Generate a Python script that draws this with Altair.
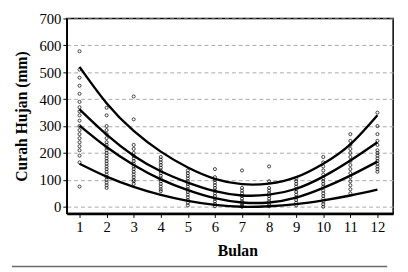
import altair as alt
import pandas as pd

months = list(range(1, 13))
month_ticks = [1, 2, 3, 4, 5, 6, 7, 8, 9, 10, 11, 12]
y_ticks = [0, 100, 200, 300, 400, 500, 600, 700]

# fitted curves
curve_a = [520, 385, 282, 205, 146, 104, 84, 86, 110, 160, 232, 340]
curve_b = [362, 268, 190, 132, 90, 58, 42, 45, 67, 112, 172, 240]
curve_c = [302, 222, 155, 102, 62, 32, 16, 16, 34, 70, 116, 168]
curve_d = [160, 112, 74, 44, 22, 7, 0, 2, 10, 24, 42, 64]

obs_m1 = [578, 510, 480, 450, 420, 390, 370, 355, 340, 320, 300, 285, 270, 255, 240, 225, 210, 190, 165, 75]
obs_m2 = [368, 340, 300, 285, 270, 255, 240, 230, 220, 210, 200, 190, 180, 170, 160, 150, 140, 130, 120, 110, 100, 90, 80, 70]
obs_m3 = [410, 325, 230, 215, 200, 190, 180, 170, 160, 150, 140, 130, 120, 110, 100, 95, 85]
obs_m4 = [185, 175, 165, 155, 145, 135, 125, 115, 105, 95, 85, 75, 65, 58]
obs_m5 = [135, 125, 115, 105, 95, 85, 75, 65, 55, 45, 35, 25, 15, 5]
obs_m6 = [140, 110, 100, 90, 80, 70, 60, 50, 40, 30, 20, 10, 2]
obs_m7 = [135, 70, 60, 50, 40, 30, 20, 12, 5, 0]
obs_m8 = [150, 95, 70, 60, 50, 40, 30, 20, 10, 2]
obs_m9 = [105, 95, 85, 75, 65, 55, 45, 35, 25, 15, 5]
obs_m10 = [185, 165, 150, 135, 120, 105, 95, 85, 75, 60, 50, 40, 30, 20, 10, 0]
obs_m11 = [270, 245, 230, 215, 200, 185, 170, 155, 140, 125, 110, 95, 80, 65, 50]
obs_m12 = [350, 300, 270, 245, 230, 210, 200, 190, 180, 170, 160, 150, 140, 130]

obs_all = [obs_m1, obs_m2, obs_m3, obs_m4, obs_m5, obs_m6,
           obs_m7, obs_m8, obs_m9, obs_m10, obs_m11, obs_m12]

pts = pd.DataFrame([
    {"Bulan": m, "CH": v}
    for m, vals in zip(months, obs_all) for v in vals
])

curves = pd.DataFrame([
    {"Bulan": m, "CH": v, "q": name}
    for name, series in [("a", curve_a), ("b", curve_b), ("c", curve_c), ("d", curve_d)]
    for m, v in zip(months, series)
])

FONT = "Liberation Serif"
xscale = alt.Scale(domain=[0.53, 12.58], nice=False, zero=False)
yscale = alt.Scale(domain=[-25, 700], nice=False, zero=False)

x_axis = alt.Axis(values=month_ticks, title="Bulan", grid=False, format="d",
                  labelOverlap=False,
                  domainColor="black", domainWidth=2.5, tickColor="black",
                  tickSize=4, labelPadding=2, titlePadding=9, titleX=174)
y_axis = alt.Axis(values=y_ticks, title="Curah Hujan (mm)", grid=True,
                  labelOverlap=False,
                  gridDash=[4, 3], gridColor="#a8a8a8", gridWidth=1,
                  domainColor="black", domainWidth=1.5, tickColor="black",
                  tickSize=4, labelPadding=2, titlePadding=10)

points = alt.Chart(pts).mark_point(
    shape="circle", filled=False, size=10, color="black", strokeWidth=0.8, opacity=0.9
).encode(
    x=alt.X("Bulan:Q", scale=xscale, axis=x_axis),
    y=alt.Y("CH:Q", scale=yscale, axis=y_axis),
)

lines = alt.Chart(curves).mark_line(
    color="black", strokeWidth=2.4, interpolate="natural"
).encode(
    x=alt.X("Bulan:Q", scale=xscale, axis=x_axis),
    y=alt.Y("CH:Q", scale=yscale, axis=y_axis),
    detail="q:N",
)

# decorative page rule under the figure (part of the scanned page)
page_rule = alt.Chart(pd.DataFrame({"k": [0]})).mark_rule(
    color="#6a6a6a", strokeWidth=1.5
).encode(
    x=alt.value(-56), x2=alt.value(327), y=alt.value(253)
)

chart = alt.layer(points, lines, page_rule).properties(
    width=333, height=199,
    autosize=alt.AutoSizeParams(type="none"),
    padding={"left": 60, "top": 8, "right": 7, "bottom": 57},
).configure_view(
    stroke="black", strokeWidth=1.5
).configure_axis(
    labelOverlap=False,
    labelFont=FONT, labelFontSize=15, labelColor="black",
    titleFont=FONT, titleFontSize=16, titleFontWeight="bold", titleColor="black",
)

chart.save("out.html", embed_options={"renderer": "svg", "actions": False})
